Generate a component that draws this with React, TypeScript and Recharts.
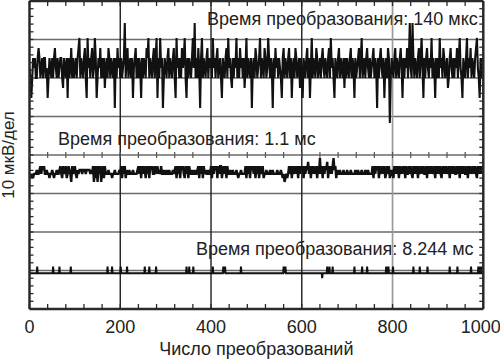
import React from 'react';
import { ComposedChart, Line, XAxis, YAxis, ReferenceLine, ReferenceArea, Scatter } from 'recharts';

// ---- axes / grid ----
const X_TICKS = [0, 40, 80, 120, 160, 200, 240, 280, 320, 360, 400, 440, 480, 520, 560, 600, 640, 680, 720, 760, 800, 840, 880, 920, 960, 1000];
const X_LABELS = [0, 200, 400, 600, 800, 1000];
const Y_TICKS = [0, 2, 4, 6, 8, 10, 12, 14, 16, 18, 20, 22, 24, 26, 28, 30, 32, 34, 36, 38, 40, 42, 44, 46, 48, 50, 52, 54, 56, 58, 60, 62, 64, 66, 68, 70, 72, 74, 76, 78, 80];
const GRID_X_DARK = [200, 400, 600];
const GRID_X_LIGHT = [800];
const GRID_Y = [10, 20, 30, 40, 50, 60, 70];
const SAMPLE_STEP = 2; // conversions between plotted samples

// ---- trace 1: 140 us conversion (ADC codes -> uV) ----
const LEVELS_1 = [48.3, 52.2, 54.8, 57.4, 60, 62.6, 65.2, 67.8, 70.4, 74.3];
const CODES_1 = [
  5,4,2,4,6,5,6,4,4,6,7,6,4,5,6,4,6,6,4,5,2,4,6,5,4,
  6,4,6,7,5,4,6,4,5,6,6,4,3,6,5,4,6,2,6,4,5,7,4,6,4,
  5,6,4,6,7,8,4,6,5,4,6,7,4,2,8,5,6,4,6,7,4,5,8,6,2,
  4,6,5,7,4,6,4,6,3,5,6,4,7,6,4,6,5,4,6,1,6,4,7,5,6,
  4,6,4,5,6,9,4,6,7,4,5,6,4,6,2,5,6,7,4,6,4,6,5,2,6,
  4,6,5,4,7,6,8,4,6,5,4,6,7,4,6,8,2,6,4,8,5,6,1,4,6,
  5,4,6,7,4,6,5,4,6,7,4,2,8,5,6,4,6,4,7,5,6,8,4,2,6,
  4,6,5,4,6,8,5,9,4,6,4,7,5,1,6,8,4,6,5,4,6,7,4,6,5,
  6,4,8,5,6,4,6,7,4,5,6,4,2,6,5,4,6,7,4,8,5,6,4,3,6,
  4,6,5,8,4,6,4,7,5,6,4,6,3,5,8,4,6,5,4,6,1,5,6,4,7,
  6,4,5,6,8,4,6,5,4,7,6,4,5,8,6,4,6,5,1,6,4,7,5,6,4,
  6,5,4,2,6,7,4,6,5,4,6,7,4,6,2,5,6,4,7,6,4,5,6,3,6,
  4,2,6,5,4,6,7,4,6,2,5,8,4,6,5,4,7,6,4,5,6,4,6,7,5,
  4,6,5,4,6,7,4,8,5,6,4,2,6,5,4,6,7,4,6,5,4,6,3,6,4,
  6,5,4,6,7,4,6,5,2,6,4,5,6,7,4,6,8,4,5,6,4,6,7,5,4,
  6,4,5,6,7,4,6,5,1,6,4,6,7,5,4,6,2,5,6,4,7,6,0,4,6,
  5,4,6,7,4,6,5,4,6,7,5,2,6,4,6,5,7,4,6,9,5,4,9,6,4,
  6,5,4,6,7,4,6,8,5,2,6,4,6,7,5,4,6,5,8,4,6,5,2,6,4,
  6,4,8,5,6,4,7,6,4,5,6,3,4,6,7,5,4,6,4,6,5,7,4,6,8,
  5,4,2,6,5,4,6,8,4,6,5,7,4,6,5,4,6,7,8,5,4,2,6,4,6,
];

// ---- trace 2: 1.1 ms conversion ----
const LEVELS_2 = [33.0, 34.0, 35.1, 36.1, 37.1, 38.2, 39.2];
const CODES_2 = [
  1,2,1,2,1,2,2,2,3,2,2,3,4,2,4,3,4,2,2,3,2,2,1,2,2,
  3,2,1,2,2,3,2,2,3,4,2,1,4,3,2,4,1,2,4,3,2,0,4,2,3,
  4,2,1,3,2,3,3,3,2,3,3,3,2,3,3,3,3,2,3,2,4,0,4,1,4,
  0,4,2,4,0,3,4,1,4,2,2,2,3,2,2,2,1,2,2,3,2,2,2,2,3,
  2,4,1,4,2,4,1,3,2,2,3,2,2,2,3,2,2,2,2,3,4,2,4,1,4,
  2,4,3,1,4,2,4,1,4,3,4,2,2,4,2,3,4,2,3,2,4,2,2,3,2,
  2,3,2,2,3,2,2,2,3,2,3,4,1,4,2,4,1,4,3,4,2,1,4,2,4,
  1,4,2,2,3,2,2,3,2,2,3,4,1,4,2,4,1,4,2,3,2,2,3,2,2,
  4,1,4,2,4,3,4,1,4,2,4,4,1,3,4,2,4,1,4,2,2,3,2,2,3,
  2,2,2,3,2,1,2,2,3,2,2,2,2,4,1,4,2,4,1,4,3,4,2,4,1,
  4,2,4,1,4,2,3,4,1,2,2,3,2,2,2,3,2,2,3,2,2,2,2,3,2,
  2,2,3,2,1,2,0,1,2,1,2,4,2,4,1,4,2,3,4,2,4,1,4,2,4,
  3,4,1,4,2,4,3,5,2,4,1,4,2,4,2,3,4,1,4,2,6,2,4,1,4,
  2,4,3,5,1,4,2,4,2,4,6,3,4,1,3,2,2,3,2,2,2,3,2,2,2,
  3,2,2,2,3,2,2,2,2,3,2,2,3,2,2,2,3,2,2,2,3,2,2,3,2,
  2,2,2,4,1,4,2,4,3,4,1,4,2,3,4,2,4,1,2,4,2,4,1,2,3,
  2,1,4,2,4,2,4,1,4,3,2,4,2,4,1,4,2,2,4,2,4,2,1,4,2,
  4,2,4,1,4,2,3,4,2,4,2,2,4,1,4,2,4,2,4,3,2,4,1,4,2,
  4,2,4,2,1,4,2,4,2,4,2,3,4,1,4,2,4,2,4,2,2,4,2,4,1,
  4,2,4,2,4,2,2,4,1,4,2,4,2,3,4,2,4,2,1,4,2,4,2,4,2,
];

// ---- trace 3: 8.244 ms conversion (flat with single-code flips) ----
const BASE_3 = 9.3;
const UP_3 = 11;
const DOWN_3 = 8;
const SPIKES_3 = [17, 52, 66, 91, 172, 182, 201, 215, 254, 264, 279, 346, 352, 361, 404, 427, 429, 431, 466, 560, 562, 564, 656, 661, 668, 716, 733, 744, 786, 788, 791, 801, 846, 860, 877, 926, 943, 973, 989, 993, 997];
const DIPS_3 = [645];

const LABELS = ['Время преобразования: 140 мкс', 'Время преобразования: 1.1 мс', 'Время преобразования: 8.244 мс'];
const X_TITLE = 'Число преобразований';
const Y_TITLE = '10 мкВ/дел';

const trace1 = CODES_1.map((c, i) => ({ x: i * SAMPLE_STEP, y: LEVELS_1[c] }));
const trace2 = CODES_2.map((c, i) => ({ x: i * SAMPLE_STEP, y: LEVELS_2[c] }));
const events3 = [...SPIKES_3.map((s) => [s, UP_3]), ...DIPS_3.map((s) => [s, DOWN_3])].sort((a, b) => a[0] - b[0]);
const trace3: { x: number; y: number }[] = [{ x: 0, y: BASE_3 }];
events3.forEach(([s, v]) => {
  trace3.push({ x: s - 1, y: BASE_3 }, { x: s, y: v }, { x: s + 1, y: BASE_3 });
});
trace3.push({ x: 1000, y: BASE_3 });
const midTicks = X_TICKS.map((x) => ({ x, y: 40 }));

const FONT = '"Liberation Sans", Arial, Helvetica, sans-serif';
const TXT = '#222';
const FRAME = '#2a2a2a';

const BottomTick = (p: any) => {
  const { x, y, payload } = p;
  const v = payload.value;
  const lx = v === 1000 ? x - 2.5 : x;
  return (
    <g>
      <line x1={x} y1={y} x2={x} y2={y - 5} stroke={FRAME} strokeWidth={1.3} />
      {X_LABELS.includes(v) && (
        <text x={lx} y={y + 24} textAnchor="middle" fontSize={18} fill={TXT} fontFamily={FONT}>{v}</text>
      )}
    </g>
  );
};
const TopTick = (p: any) => {
  const { x, y } = p;
  return <line x1={x} y1={y} x2={x} y2={y + 5} stroke={FRAME} strokeWidth={1.3} />;
};
const LeftTick = (p: any) => {
  const { x, y } = p;
  return <line x1={x} y1={y} x2={x + 4} y2={y} stroke={FRAME} strokeWidth={1.3} />;
};
const RightTick = (p: any) => {
  const { x, y } = p;
  return <line x1={x} y1={y} x2={x - 4} y2={y} stroke={FRAME} strokeWidth={1.3} />;
};

const AnnoLabel = (p: any) => {
  const vb = p.viewBox || {};
  return (
    <text x={vb.x + 4} y={vb.y + vb.height - 6} fontSize={18} fill={TXT} fontFamily={FONT}>{p.text}</text>
  );
};

const XTitle = (p: any) => {
  const vb = p.viewBox || {};
  return (
    <text x={vb.x + vb.width / 2} y={vb.y + 46} textAnchor="middle" fontSize={18} fill={TXT} fontFamily={FONT}>{X_TITLE}</text>
  );
};
const YTitle = (p: any) => {
  const vb = p.viewBox || {};
  const cx = 13.5;
  const cy = vb.y + vb.height / 2;
  return (
    <text x={cx} y={cy} transform={`rotate(-90, ${cx}, ${cy})`} textAnchor="middle" fontSize={17} fill={TXT} fontFamily={FONT}>{Y_TITLE}</text>
  );
};

const MidTickShape = (p: any) => {
  const { cx, cy } = p;
  return <line x1={cx} y1={cy - 3} x2={cx} y2={cy + 3} stroke="#555" strokeWidth={1.2} />;
};

export default function App() {
  return (
    <div style={{ position: 'absolute', left: 0, top: 0, width: 500, height: 359, background: '#fff' }}>
      <ComposedChart width={500} height={359} margin={{ top: 0, right: 0, bottom: 0, left: 0 }}>
        <XAxis xAxisId="b" dataKey="x" type="number" domain={[0, 1000]} ticks={X_TICKS} interval={0}
          height={50} tickSize={0} tickMargin={0} tickLine={false} tick={BottomTick}
          axisLine={{ stroke: FRAME, strokeWidth: 2.5 }} allowDataOverflow label={<XTitle />} />
        <XAxis xAxisId="t" orientation="top" dataKey="x" type="number" domain={[0, 1000]} ticks={X_TICKS} interval={0}
          height={1} tickSize={0} tickMargin={0} tickLine={false} tick={TopTick}
          axisLine={{ stroke: FRAME, strokeWidth: 2.5 }} allowDataOverflow />
        <YAxis yAxisId="l" dataKey="y" type="number" domain={[0, 80]} ticks={Y_TICKS} interval={0}
          width={29.5} tickSize={0} tickMargin={0} tickLine={false} tick={LeftTick}
          axisLine={{ stroke: FRAME, strokeWidth: 2.5 }} allowDataOverflow label={<YTitle />} />
        <YAxis yAxisId="r" orientation="right" dataKey="y" type="number" domain={[0, 80]} ticks={Y_TICKS} interval={0}
          width={16.7} tickSize={0} tickMargin={0} tickLine={false} tick={RightTick}
          axisLine={{ stroke: FRAME, strokeWidth: 2.5 }} allowDataOverflow />

        {GRID_Y.map((v) => (
          <ReferenceLine key={'gy' + v} xAxisId="b" yAxisId="l" y={v} stroke="#6a6a6a" strokeWidth={1.5} />
        ))}
        {GRID_X_DARK.map((v) => (
          <ReferenceLine key={'gx' + v} xAxisId="b" yAxisId="l" x={v} stroke="#1e1e1e" strokeWidth={1.4} />
        ))}
        {GRID_X_LIGHT.map((v) => (
          <ReferenceLine key={'gxl' + v} xAxisId="b" yAxisId="l" x={v} stroke="#9a9a9a" strokeWidth={1.7} />
        ))}

        <ReferenceArea xAxisId="b" yAxisId="l" x1={382.3} x2={1000} y1={72.2} y2={79} fill="#fff" fillOpacity={1} stroke="none"
          label={<AnnoLabel text={LABELS[0]} />} />
        <ReferenceArea xAxisId="b" yAxisId="l" x1={54} x2={635.7} y1={41.04} y2={49.1} fill="#fff" fillOpacity={1} stroke="none"
          label={<AnnoLabel text={LABELS[1]} />} />
        <ReferenceArea xAxisId="b" yAxisId="l" x1={358} x2={984} y1={12.47} y2={19.22} fill="#fff" fillOpacity={1} stroke="none"
          label={<AnnoLabel text={LABELS[2]} />} />

        <Scatter xAxisId="b" yAxisId="l" data={midTicks} dataKey="y" shape={<MidTickShape />} isAnimationActive={false} />

        <Line xAxisId="b" yAxisId="l" data={trace1} dataKey="y" type="linear" stroke="#111" strokeWidth={2.1}
          dot={false} activeDot={false} isAnimationActive={false} />
        <Line xAxisId="b" yAxisId="l" data={trace2} dataKey="y" type="linear" stroke="#111" strokeWidth={2.4}
          dot={false} activeDot={false} isAnimationActive={false} />
        <Line xAxisId="b" yAxisId="l" data={trace3} dataKey="y" type="linear" stroke="#111" strokeWidth={2}
          dot={false} activeDot={false} isAnimationActive={false} />
      </ComposedChart>
    </div>
  );
}
